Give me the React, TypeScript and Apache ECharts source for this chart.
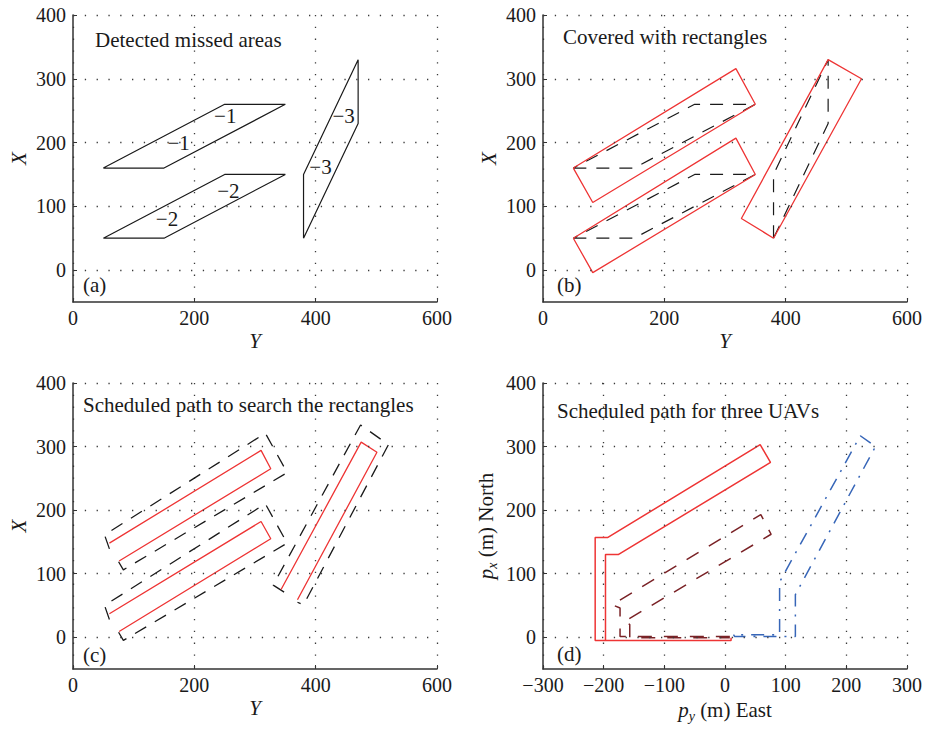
import React, { useEffect, useRef } from "react";
import * as echarts from "echarts";

// ---------- data ----------
// (a) detected missed areas (parallelograms), [Y, X]
const areaA1 = [[50, 160], [150, 160], [350, 260], [250, 260], [50, 160]];
const areaA2 = [[50, 50], [150, 50], [350, 150], [250, 150], [50, 50]];
const areaA3 = [[380, 50], [380, 150], [470, 330], [470, 230], [380, 50]];
const contourLabels = [
  { name: "−1", value: [251, 241] },
  { name: "−1", value: [174, 200] },
  { name: "−2", value: [256, 124] },
  { name: "−2", value: [155, 80] },
  { name: "−3", value: [446, 241] },
  { name: "−3", value: [408, 161] },
];
// (b) covering rectangles
const rectB1 = [[50, 160], [82, 106], [350, 260], [318, 316], [50, 160]];
const rectB2 = [[50, 50], [82, -4], [350, 150], [318, 207], [50, 50]];
const rectB3 = [[380, 50], [327, 81], [470, 330], [525, 300], [380, 50]];
// (c) scheduled search paths
const pathC1 = [[60, 148], [310, 294], [326, 265], [76, 120]];
const pathC2 = [[60, 37], [310, 182], [326, 155], [76, 9]];
const pathC3 = [[343, 75], [475, 307], [501, 291], [370, 59]];
const dashC1 = [[60, 139], [52, 161], [317, 321], [353, 259], [83, 106], [75, 119]];
const dashC2 = [[60, 28], [52, 50], [317, 210], [353, 148], [83, -5], [75, 8]];
const dashC3 = [[348, 71], [330, 82], [474, 334], [520, 303], [380, 51], [370, 55]];
// (d) paths of three UAVs, [p_y, p_x]
const uav1 = [[10, -1], [10, -5], [-214, -5], [-214, 157], [-193, 157], [58, 303], [75, 275], [-176, 130], [-197, 130], [-197, -5]];
const uav2 = [[8, 1], [-173, 1], [-173, 46], [-186, 51], [59, 193], [76, 162], [-167, 24], [-157, 20], [-157, -1], [8, -1]];
const uav3 = [[14, 4], [16, 1], [116, 1], [116, 67], [248, 300], [223, 317], [90, 87], [90, 4], [14, 4]];
// ticks
const yTicks = [0, 100, 200, 300, 400];
const titles = ["Detected missed areas", "Covered with rectangles", "Scheduled path to search the rectangles", "Scheduled path for three UAVs"];
const panelTags = ["(a)", "(b)", "(c)", "(d)"];

const FONT = "'Liberation Serif', serif";
const RED = "#ee3434";
const DARKRED = "#7a2226";
const BLUE = "#3766b8";
const INK = "#1a1a1a";

const GRIDS = [
  { left: 73, top: 15, width: 364, height: 287 },
  { left: 543, top: 15, width: 364, height: 287 },
  { left: 73, top: 383, width: 364, height: 286 },
  { left: 543, top: 383, width: 364, height: 286 },
];

const fmt = (v: number) => String(v).replace("-", "−");

function App() {
  const ref = useRef<HTMLDivElement>(null);
  useEffect(() => {
    const chart = echarts.init(ref.current!, null, { renderer: "svg" });
    const dotted = { color: "#3a3a3a", width: 1.3, type: [1.3, 10.5] as any };
    const axisLine = { show: true, onZero: false, lineStyle: { color: "#333", width: 1.5 } };
    const richName = () => ({
      fontFamily: FONT,
      fontSize: 21,
      color: INK,
      rich: {
        p: { fontFamily: FONT, fontSize: 21, fontStyle: "italic", color: INK, lineHeight: 26 },
        s: { fontFamily: FONT, fontSize: 14, fontStyle: "italic", color: INK, lineHeight: 16, verticalAlign: "bottom" },
        t: { fontFamily: FONT, fontSize: 21, color: INK, lineHeight: 26 },
      },
    });

    const xAxes = GRIDS.map((_, i) => {
      const isD = i === 3;
      return {
        type: "value",
        gridIndex: i,
        min: isD ? -300 : 0,
        max: isD ? 300 : 600,
        interval: isD ? 100 : 200,
        axisLine,
        axisTick: { show: true, inside: true, length: 4, lineStyle: { color: "#333" } },
        axisLabel: { fontFamily: FONT, fontSize: 20, color: INK, margin: 6, formatter: fmt, showMaxLabel: true, showMinLabel: true },
        splitLine: { show: true, lineStyle: dotted },
        name: isD ? "{p|p}{s|y}{t| (m) East}" : "Y",
        nameLocation: "middle",
        nameGap: 28,
        nameTextStyle: isD ? richName() : { fontFamily: FONT, fontSize: 21, fontStyle: "italic", color: INK },
      };
    });
    const yAxes = GRIDS.map((_, i) => {
      const isD = i === 3;
      return {
        type: "value",
        gridIndex: i,
        min: -50,
        max: 400,
        interval: 50,
        axisLine,
        axisTick: { show: true, inside: true, length: 4, customValues: yTicks, lineStyle: { color: "#333" } },
        axisLabel: {
          fontFamily: FONT,
          fontSize: 20,
          color: INK,
          margin: 7,
          customValues: yTicks,
          formatter: (v: number) => (v % 100 === 0 ? fmt(v) : ""),
        },
        splitLine: { show: false },
        name: isD ? "{p|p}{s|x}{t| (m) North}" : "X",
        nameLocation: "middle",
        nameRotate: 90,
        nameGap: 44,
        nameTextStyle: isD ? richName() : { fontFamily: FONT, fontSize: 21, fontStyle: "italic", color: INK },
      };
    });

    const line = (i: number, data: number[][], color: string, width: number, type: any) => ({
      type: "line",
      xAxisIndex: i,
      yAxisIndex: i,
      data,
      showSymbol: false,
      symbol: "none",
      silent: true,
      z: 3,
      lineStyle: { color, width, type, cap: "butt" },
    });

    const gridSeries = GRIDS.map((_, i) => ({
      type: "line",
      xAxisIndex: i,
      yAxisIndex: i,
      data: [[i === 3 ? 0 : 100, 0]],
      showSymbol: false,
      symbol: "none",
      silent: true,
      z: 1,
      lineStyle: { opacity: 0 },
      markLine: {
        silent: true,
        symbol: "none",
        label: { show: false },
        lineStyle: dotted,
        data: yTicks.map((v) => ({ yAxis: v })),
      },
    }));

    const DASH = [13, 10];
    const series: any[] = [
      ...gridSeries,
      line(0, areaA1, INK, 1.2, "solid"),
      line(0, areaA2, INK, 1.2, "solid"),
      line(0, areaA3, INK, 1.2, "solid"),
      {
        type: "scatter",
        xAxisIndex: 0,
        yAxisIndex: 0,
        data: contourLabels,
        symbol: "circle",
        symbolSize: 1,
        itemStyle: { color: "rgba(0,0,0,0)" },
        silent: true,
        z: 4,
        label: { show: true, position: "inside", formatter: "{b}", fontFamily: FONT, fontSize: 21, color: INK, opacity: 1 },
      },
      line(1, areaA1, INK, 1.2, DASH),
      line(1, areaA2, INK, 1.2, DASH),
      line(1, areaA3, INK, 1.2, DASH),
      line(1, rectB1, RED, 1.3, "solid"),
      line(1, rectB2, RED, 1.3, "solid"),
      line(1, rectB3, RED, 1.3, "solid"),
      line(2, dashC1, INK, 1.3, DASH),
      line(2, dashC2, INK, 1.3, DASH),
      line(2, dashC3, INK, 1.3, DASH),
      line(2, pathC1, RED, 1.3, "solid"),
      line(2, pathC2, RED, 1.3, "solid"),
      line(2, pathC3, RED, 1.3, "solid"),
      line(3, uav2, DARKRED, 1.5, [14, 12]),
      line(3, uav3, BLUE, 1.5, [13, 8, 2, 8]),
      line(3, uav1, RED, 1.5, "solid"),
    ];

    const titleTops = [29, 26, 394, 400];
    const titleLefts = [95, 563, 83, 557];
    const tagTops = [274, 274, 644, 643];
    const tagLefts = [83, 557, 83, 557];
    const title: any[] = [];
    titles.forEach((t, i) =>
      title.push({
        text: t,
        left: titleLefts[i],
        top: titleTops[i],
        padding: 0,
        textStyle: { fontFamily: FONT, fontSize: 21, fontWeight: "normal", color: INK },
      })
    );
    panelTags.forEach((t, i) =>
      title.push({
        text: t,
        left: tagLefts[i],
        top: tagTops[i],
        padding: 0,
        textStyle: { fontFamily: FONT, fontSize: 21, fontWeight: "normal", color: INK },
      })
    );

    chart.setOption({
      animation: false,
      backgroundColor: "#ffffff",
      textStyle: { fontFamily: FONT },
      grid: GRIDS.map((g) => ({ ...g, containLabel: false })),
      xAxis: xAxes,
      yAxis: yAxes,
      title,
      series,
    });
    return () => chart.dispose();
  }, []);
  return <div ref={ref} style={{ position: "absolute", left: 0, top: 0, width: 926, height: 729 }} />;
}

export default App;
